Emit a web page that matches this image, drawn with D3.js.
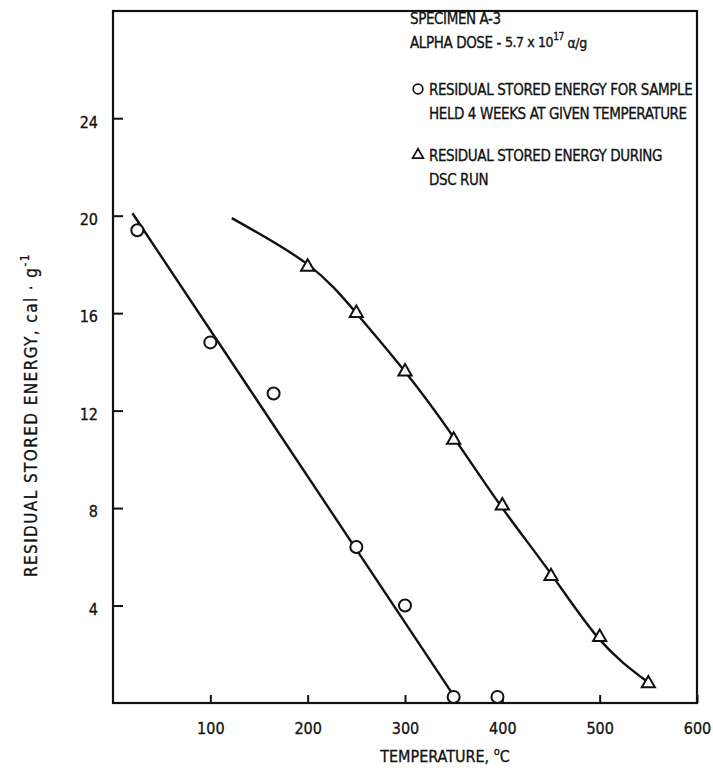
<!DOCTYPE html>
<html>
<head>
<meta charset="utf-8">
<script src="https://cdn.jsdelivr.net/npm/d3@7"></script>
<style>
  body { margin: 0; background: #fff; }
  text { font-family: "Liberation Sans Narrow", "DejaVu Sans Condensed", "Arial Narrow", sans-serif; fill: #111; stroke: #111; stroke-width: 0.3px; }
</style>
</head>
<body>
<svg id="chart" width="713" height="779"></svg>
<script>
// Samples held 4 weeks at temperature (open circles)
const heldTemps  = [25, 100, 165, 250, 300, 350, 395];
const heldEnergy = [19.4, 14.8, 12.7, 6.4, 4.0, 0.25, 0.25];

// Residual energy during the DSC run (open triangles)
const dscTemps  = [200, 250, 300, 350, 400, 450, 500, 550];
const dscEnergy = [17.9, 16.0, 13.6, 10.8, 8.1, 5.2, 2.7, 0.8];

// Hand-drawn fits through each series
const heldFitTemps  = [20, 350];
const heldFitEnergy = [20.1, 0.3];
const dscFitTemps  = [122, 200, 250, 300, 350, 400, 450, 500, 548];
const dscFitEnergy = [19.9, 18.0, 16.0, 13.6, 10.9, 8.0, 5.3, 2.6, 0.9];

const xTickValues = [100, 200, 300, 400, 500, 600];
const yTickValues = [4, 8, 12, 16, 20, 24];

const svg = d3.select("#chart");
const plotLeft = 113, plotRight = 697, plotTop = 11, plotBottom = 703;

const x = d3.scaleLinear().domain([0, 600]).range([plotLeft, plotRight]);
const y = d3.scaleLinear().domain([0, 28.4]).range([plotBottom, plotTop]);

svg.append("rect").attr("width", 713).attr("height", 779).attr("fill", "#fff");

// Axes with inward ticks
const xAxis = svg.append("g")
  .attr("transform", `translate(0,${plotBottom})`)
  .call(d3.axisBottom(x).tickValues(xTickValues).tickSizeInner(-8).tickSizeOuter(0).tickPadding(20));
const yAxis = svg.append("g")
  .attr("transform", `translate(${plotLeft},0)`)
  .call(d3.axisLeft(y).tickValues(yTickValues).tickSizeInner(-10).tickSizeOuter(0).tickPadding(15));

[xAxis, yAxis].forEach(g => {
  g.select(".domain").remove();
  g.selectAll(".tick line").attr("stroke", "#111").attr("stroke-width", 2);
  g.selectAll(".tick text").attr("font-size", 16).attr("fill", "#111")
    .style("font-family", '"Liberation Sans Narrow","DejaVu Sans Condensed",sans-serif');
});
yAxis.selectAll(".tick text").attr("dy", "0.55em");

// Plot frame
svg.append("rect")
  .attr("x", x(0)).attr("y", y(28.4))
  .attr("width", x(600) - x(0)).attr("height", y(0) - y(28.4))
  .attr("fill", "none").attr("stroke", "#111").attr("stroke-width", 2.2);

// Fitted curves
const line = d3.line().x(d => x(d[0])).y(d => y(d[1]));
svg.append("path")
  .datum(d3.zip(heldFitTemps, heldFitEnergy))
  .attr("d", line)
  .attr("fill", "none").attr("stroke", "#111").attr("stroke-width", 2.4);
svg.append("path")
  .datum(d3.zip(dscFitTemps, dscFitEnergy))
  .attr("d", line.curve(d3.curveNatural))
  .attr("fill", "none").attr("stroke", "#111").attr("stroke-width", 2.4);

// Markers
svg.append("g").selectAll("circle")
  .data(d3.zip(heldTemps, heldEnergy))
  .join("circle")
  .attr("cx", d => x(d[0])).attr("cy", d => y(d[1])).attr("r", 6)
  .attr("fill", "#fff").attr("stroke", "#111").attr("stroke-width", 2);

const tri = d3.symbol().type(d3.symbolTriangle).size(75);
svg.append("g").selectAll("path")
  .data(d3.zip(dscTemps, dscEnergy))
  .join("path")
  .attr("d", tri)
  .attr("transform", d => `translate(${x(d[0])},${y(d[1])})`)
  .attr("fill", "#fff").attr("stroke", "#111").attr("stroke-width", 2);

// Axis titles
const xt = svg.append("text")
  .attr("x", 445).attr("y", 762).attr("text-anchor", "middle").attr("font-size", 16);
xt.append("tspan").text("TEMPERATURE, ");
xt.append("tspan").attr("dy", -7).attr("font-size", 11).text("o");
xt.append("tspan").attr("dy", 7).text("C");

const yt = svg.append("text")
  .attr("transform", "translate(37,415) rotate(-90)")
  .attr("text-anchor", "middle").attr("font-size", 17)
  .attr("letter-spacing", 1.4);
yt.append("tspan").text("RESIDUAL STORED ENERGY, cal · g");
yt.append("tspan").attr("dy", -8).attr("font-size", 12).text("-1");

// Legend block
const legX = 410, txtX = 429;
function legendLine(xPos, yPos, str) {
  return svg.append("text").attr("x", xPos).attr("y", yPos)
    .attr("font-size", 15).attr("letter-spacing", -0.4).text(str);
}
legendLine(legX, 24, "SPECIMEN A-3");
const dose = svg.append("text").attr("x", legX).attr("y", 48)
  .attr("font-size", 15).attr("letter-spacing", -0.4);
dose.append("tspan").text("ALPHA DOSE - ");
dose.append("tspan").attr("dy", -1).attr("font-size", 14).text("5.7 x 10");
dose.append("tspan").attr("dy", -7).attr("font-size", 10).text("17");
dose.append("tspan").attr("dy", 8).attr("font-size", 14).text(" α/g");

svg.append("circle").attr("cx", legX + 8).attr("cy", 89).attr("r", 4.8)
  .attr("fill", "#fff").attr("stroke", "#111").attr("stroke-width", 1.7);
legendLine(txtX, 95, "RESIDUAL STORED ENERGY FOR SAMPLE");
legendLine(txtX, 119, "HELD 4 WEEKS AT GIVEN TEMPERATURE");

svg.append("path").attr("d", d3.symbol().type(d3.symbolTriangle).size(50))
  .attr("transform", `translate(${legX + 8},${155})`)
  .attr("fill", "#fff").attr("stroke", "#111").attr("stroke-width", 1.7);
legendLine(txtX, 161, "RESIDUAL STORED ENERGY DURING");
legendLine(txtX, 185, "DSC RUN");
</script>
</body>
</html>
